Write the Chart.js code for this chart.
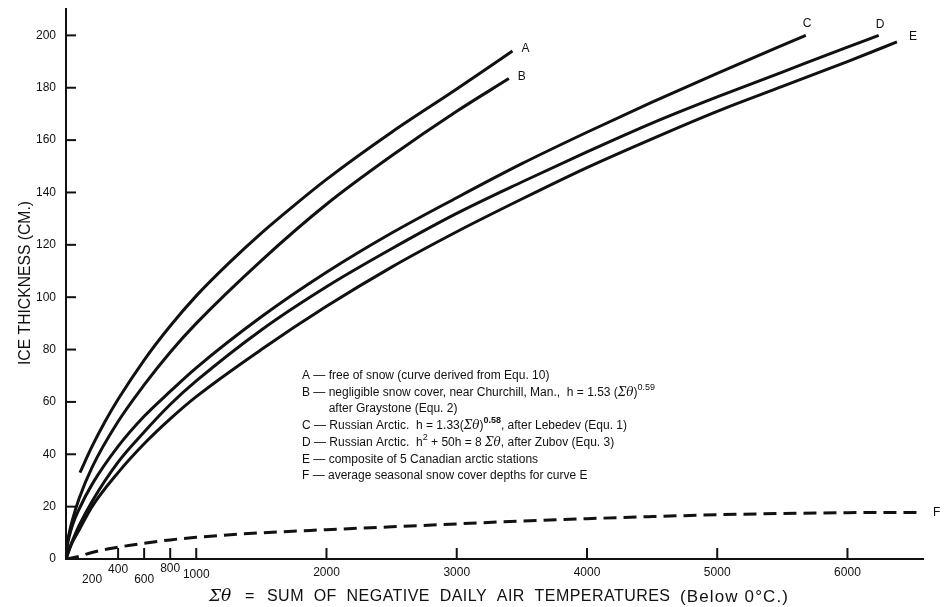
<!DOCTYPE html>
<html>
<head>
<meta charset="utf-8">
<script src="https://cdn.jsdelivr.net/npm/chart.js@4.4.1/dist/chart.umd.min.js"></script>
<style>
  html, body { margin: 0; background: #fff; }
  #wrap { width: 948px; height: 607px; position: relative; }
</style>
</head>
<body>
<div id="wrap"><canvas id="c"></canvas></div>
<script>
// values (Σθ in degree-days, h in cm)
const thetaA = [107, 200, 300, 400, 600, 800, 1000, 1250, 1500, 1750, 2000, 2500, 3000, 3428]
const iceA = [33, 43, 52.5, 61, 76, 89, 100.5, 113, 124.5, 135, 145, 163, 179.5, 194]

const thetaB = [0, 10, 25, 50, 100, 200, 400, 600, 800, 1000, 1500, 2000, 2500, 3000, 3400]
const iceB = [0, 6, 10, 15, 23, 35, 52.5, 66.5, 79, 90, 114, 135.5, 154, 171, 183.5]

const thetaC = [0, 10, 25, 50, 100, 200, 400, 600, 800, 1000, 1500, 2000, 2500, 3000, 3500, 4000, 4500, 5000, 5680]
const iceC = [0, 5, 8.6, 13, 19, 28.5, 43, 54.5, 64, 73, 92.5, 109.5, 124.5, 138, 151, 163, 174.5, 185.5, 200]

const thetaD = [0, 10, 25, 50, 100, 200, 400, 600, 800, 1000, 1500, 2000, 2500, 3000, 3500, 4000, 4500, 5000, 5500, 6000, 6240]
const iceD = [0, 1.5, 3.7, 7, 12.7, 22, 37, 48.5, 59, 68, 87.5, 104, 118.5, 132, 144, 155.5, 166.5, 176.5, 186, 195.5, 200]

const thetaE = [0, 25, 50, 100, 200, 400, 600, 800, 1000, 1500, 2000, 2500, 3000, 3500, 4000, 4500, 5000, 5500, 6000, 6380]
const iceE = [0, 3.5, 6.5, 11, 20, 33, 44, 53.5, 62, 80, 96.5, 111.5, 125, 137.5, 149.5, 160.5, 171, 180.5, 190, 197.5]

const thetaF = [0, 100, 200, 400, 600, 800, 1000, 1500, 2000, 2500, 3000, 3500, 4000, 4500, 5000, 5500, 6000, 6580]
const snowF = [0, 1, 2.5, 4.5, 6, 7.3, 8.3, 10, 11.2, 12.3, 13.4, 14.5, 15.4, 16.2, 16.9, 17.4, 17.7, 17.8]

const curveNames = ['A', 'B', 'C', 'D', 'E', 'F']
const yTicks = [0, 20, 40, 60, 80, 100, 120, 140, 160, 180, 200]
const xTickLabels = [200, 400, 600, 800, 1000, 2000, 3000, 4000, 5000, 6000]
const xTickMarks = [400, 600, 800, 1000, 2000, 3000, 4000, 5000, 6000]

const ink = '#111'
const FONT = '"Liberation Sans", Arial, sans-serif'

function pts(xs, ys) {
  return xs.map((v, i) => ({ x: v, y: ys[i] }))
}

const series = [
  pts(thetaA, iceA), pts(thetaB, iceB), pts(thetaC, iceC),
  pts(thetaD, iceD), pts(thetaE, iceE), pts(thetaF, snowF)
]

// legend text, split in runs so the formulas get italics / superscripts
const notes = [
  [['A — free of snow (curve derived from Equ. 10)']],
  [['B — negligible snow cover, near Churchill, Man.,  h = 1.53 ('], ['Σθ', 'i'], [')'], ['0.59', 's']],
  [['after Graystone (Equ. 2)', 'indent']],
  [['C — Russian Arctic.  h = 1.33('], ['Σθ', 'i'], [')'], ['0.58', 'sb'], [', after Lebedev (Equ. 1)']],
  [['D — Russian Arctic.  h'], ['2', 's'], [' + 50h = 8 '], ['Σθ', 'i'], [', after Zubov (Equ. 3)']],
  [['E — composite of 5 Canadian arctic stations']],
  [['F — average seasonal snow cover depths for curve E']]
]

function drawRuns(ctx, runs, x, y) {
  ctx.textBaseline = 'middle'
  ctx.textAlign = 'left'
  for (const [txt, st] of runs) {
    if (st === 'indent') {
      ctx.font = '12px ' + FONT
      x += ctx.measureText('B — ').width
    }
    let dy = 0
    if (st === 's' || st === 'sb') {
      ctx.font = (st === 'sb' ? 'bold ' : '') + '9px ' + FONT
      dy = -5
    } else if (st === 'i') {
      ctx.font = 'italic 12px "DejaVu Serif", serif'
    } else {
      ctx.font = '12px ' + FONT
    }
    ctx.fillText(txt, x, y + dy)
    x += ctx.measureText(txt).width
  }
}

// draws a string so it fills the span x0..x1
function fitText(ctx, txt, x0, x1, y) {
  const w = ctx.measureText(txt).width
  ctx.letterSpacing = ((x1 - x0 - w) / (txt.length - 1)).toFixed(2) + 'px'
  ctx.fillText(txt, x0, y)
  ctx.letterSpacing = '0px'
}

const overlay = {
  id: 'overlay',
  afterDraw(chart) {
    const { ctx, chartArea, scales } = chart
    const sx = scales.x, sy = scales.y
    ctx.save()
    ctx.strokeStyle = ink
    ctx.fillStyle = ink
    ctx.lineWidth = 2

    // inward tick marks
    yTicks.forEach(v => {
      const py = sy.getPixelForValue(v)
      ctx.beginPath(); ctx.moveTo(chartArea.left, py); ctx.lineTo(chartArea.left + 10, py); ctx.stroke()
    })
    xTickMarks.forEach(v => {
      const px = sx.getPixelForValue(v)
      ctx.beginPath(); ctx.moveTo(px, chartArea.bottom); ctx.lineTo(px, chartArea.bottom - 11); ctx.stroke()
    })

    // x tick labels, the small ones are staggered
    const stagger = { 200: 21, 400: 11, 600: 21, 800: 10, 1000: 16 }
    ctx.font = '12px ' + FONT
    ctx.textAlign = 'center'
    ctx.textBaseline = 'middle'
    xTickLabels.forEach(v => {
      const dy = stagger[v] !== undefined ? stagger[v] : 14
      ctx.fillText(String(v), sx.getPixelForValue(v), chartArea.bottom + dy)
    })

    // curve letters at the end of each line
    ctx.font = '12px ' + FONT
    ctx.textAlign = 'left'
    series.forEach((s, i) => {
      const last = s[s.length - 1]
      const px = sx.getPixelForValue(last.x)
      const py = sy.getPixelForValue(last.y)
      const off = i === 5 ? [10, 0] : i === 2 ? [-3, -12] : i === 3 ? [-3, -11] : i === 4 ? [12, -5] : [9, -2]
      ctx.fillText(curveNames[i], px + off[0], py + off[1])
    })

    // legend block
    const rows = [376, 393, 409, 426, 443, 459.5, 476]
    notes.forEach((runs, i) => drawRuns(ctx, runs, 302, rows[i]))

    // axis titles
    ctx.font = '17px ' + FONT
    ctx.textAlign = 'center'
    ctx.save()
    ctx.translate(25, 283)
    ctx.rotate(-Math.PI / 2)
    const yt = 'ICE THICKNESS (CM.)'
    ctx.scale(164 / ctx.measureText(yt).width, 1)
    ctx.fillText(yt, 0, 0)
    ctx.restore()

    ctx.textAlign = 'left'
    ctx.font = 'italic 17px "DejaVu Serif", serif'
    ctx.fillText('Σθ', 209, 597)
    ctx.font = '16px ' + FONT
    ctx.fillText('=', 245, 597)
    fitText(ctx, 'SUM  OF  NEGATIVE  DAILY  AIR  TEMPERATURES', 267, 670, 597)
    ctx.font = '17px ' + FONT
    fitText(ctx, '(Below 0°C.)', 680, 788, 597)
    ctx.restore()
  }
}

new Chart(document.getElementById('c'), {
  type: 'line',
  data: {
    datasets: series.map((s, i) => ({
      label: curveNames[i],
      data: s,
      borderColor: ink,
      borderWidth: 3,
      borderDash: i === 5 ? [13, 7] : [],
      pointRadius: 0,
      fill: false,
      cubicInterpolationMode: 'monotone'
    }))
  },
  options: {
    responsive: true,
    maintainAspectRatio: false,
    animation: false,
    layout: { padding: { top: 1, right: 25, left: 0, bottom: 0 } },
    plugins: { legend: { display: false }, tooltip: { enabled: false } },
    scales: {
      x: {
        type: 'linear',
        min: 0,
        max: 6580,
        grid: { display: false },
        border: { display: true, color: ink, width: 2 },
        ticks: { display: false },
        afterFit: s => { s.height = 48 }
      },
      y: {
        min: 0,
        max: 210,
        grid: { display: false },
        border: { display: true, color: ink, width: 2 },
        afterBuildTicks: s => { s.ticks = yTicks.map(v => ({ value: v })) },
        ticks: { color: ink, padding: 2, font: { family: FONT, size: 12 } },
        afterFit: s => { s.width = 66 }
      }
    }
  },
  plugins: [overlay]
})
</script>
</body>
</html>
